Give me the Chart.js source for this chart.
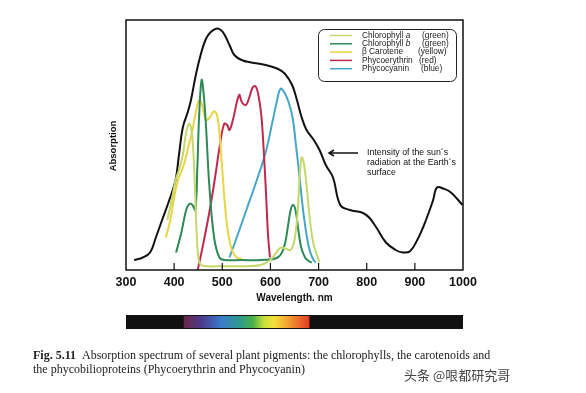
<!DOCTYPE html>
<html>
<head>
<meta charset="utf-8">
<script src="https://cdn.jsdelivr.net/npm/chart.js@4"></script>
<style>
  body { margin: 0; background: #fff; }
  #wrap { position: relative; width: 586px; height: 393px; }
  #caption { position: absolute; left: 33px; top: 348px; font: 12px "Liberation Serif", serif; color: #222; line-height: 14px; white-space: nowrap; }
  #mark { position: absolute; left: 404px; top: 365px; font: 13px "Noto Sans CJK SC", sans-serif; color: #444; }
</style>
</head>
<body>
<div id="wrap">
  <canvas id="chart-canvas" width="586" height="393"></canvas>
  <div id="caption"><b>Fig. 5.11</b>&nbsp;&nbsp;Absorption spectrum of several plant pigments: the chlorophylls, the carotenoids and<br>the phycobilioproteins (Phycoerythrin and Phycocyanin)</div>
  <div id="mark">头条 @哏都研究哥</div>
</div>
<script>
const xTicks = [300, 400, 500, 600, 700, 800, 900, 1000];

const sunNm = [317, 335, 350, 362, 375, 390, 403, 410, 418, 428, 435, 445, 455, 465, 475, 487, 497, 505, 515, 525, 540, 560, 590, 615, 630, 645, 655, 665, 675, 690, 702, 715, 730, 745, 765, 790, 805, 820, 840, 860, 875, 890, 905, 918, 928, 938, 946, 960, 975, 999];
const sunVal = [4, 5, 7, 13, 20, 28, 36, 46, 57, 63, 68, 78, 86, 92, 95, 96.5, 96, 94, 90, 86, 84, 83, 82, 80.5, 78.5, 74, 68, 61, 56, 52, 48, 42, 37, 26, 24, 23, 21, 17, 11, 8, 7, 7.5, 12, 17.5, 22.5, 28, 33, 32.5, 31, 26];

const chlANm = [386, 395, 403, 410, 418, 425, 431, 435, 439, 443, 447, 451, 456, 470, 500, 540, 580, 600, 612, 622, 632, 642, 650, 656, 661, 665, 670, 676, 682, 690, 702];
const chlAVal = [20, 28, 36, 40, 46, 55, 58.5, 57, 50, 34, 14, 4, 2, 1.5, 1.5, 1.5, 2, 4, 7, 9, 8.5, 8, 12, 22, 38, 45, 42, 32, 20, 10, 3];

const chlBNm = [404, 415, 425, 432, 438, 444, 448, 452, 457, 461, 466, 473, 483, 494, 505, 540, 580, 615, 628, 636, 642, 647, 652, 658, 664, 672, 680, 686];
const chlBVal = [7, 15, 24, 26.5, 26, 24, 40, 62, 76, 71, 58, 34, 13, 5, 4, 4, 4, 5, 9, 17, 24, 26, 24, 16, 9, 5, 3.5, 3];

const caroNm = [383, 392, 400, 408, 414, 420, 428, 438, 446, 452, 458, 466, 474, 483, 489, 494, 500, 506, 512, 520, 530, 540];
const caroVal = [13, 20, 29, 36, 39, 42, 48, 56, 64, 68, 66, 60, 61, 63.5, 62, 55, 40, 25, 15, 8, 5, 4.5];

const eryNm = [449, 460, 473, 485, 495, 504, 510, 515, 522, 535, 541, 549, 556, 563, 569, 575, 581, 586, 591, 595, 599];
const eryVal = [0, 10, 23, 37, 50, 58.5, 58, 56, 60, 70, 67, 66, 69, 73, 73.5, 70, 62, 48, 30, 14, 5];

const cyaNm = [515, 530, 550, 570, 590, 605, 614, 621, 629, 638, 646, 653, 660, 666, 672, 680, 688, 694];
const cyaVal = [5, 13, 24, 35, 47, 60, 68, 72.5, 71, 67, 61, 50, 38, 27, 18, 9, 4.5, 3];

const legendNames = ['Chlorophyll ', 'Chlorophyll ', 'β Carotene', 'Phycoerythrin', 'Phycocyanin'];
const legendItalic = ['a', 'b', '', '', ''];
const legendNotes = ['(green)', '(green)', '(yellow)', '(red)', '(blue)'];
const legendColors = ['#c4d86c', '#2d8a57', '#e9d443', '#c0294f', '#45a6c8'];

const pts = (xs, ys) => xs.map((x, i) => ({ x: x, y: ys[i] }));

function line(data, color, width) {
    return {
        data: data,
        borderColor: color,
        borderWidth: width,
        pointRadius: 0,
        fill: false,
        tension: 0.4
    };
}

const extras = {
    id: 'extras',
    afterDraw(chart) {
        const ctx = chart.ctx;
        const a = chart.chartArea;
        const xs = chart.scales.x;
        ctx.save();
        // frame
        ctx.strokeStyle = '#111';
        ctx.lineWidth = 1.5;
        ctx.strokeRect(a.left, a.top, a.right - a.left, a.bottom - a.top);
        // inner ticks
        ctx.lineWidth = 1.2;
        xTicks.slice(1, -1).forEach(v => {
            const px = xs.getPixelForValue(v);
            ctx.beginPath();
            ctx.moveTo(px, a.bottom);
            ctx.lineTo(px, a.bottom - 7);
            ctx.stroke();
        });
        // y title
        ctx.fillStyle = '#111';
        ctx.font = 'bold 9.5px Arial, "Liberation Sans", sans-serif';
        ctx.textAlign = 'center';
        ctx.textBaseline = 'middle';
        ctx.translate(113, 146);
        ctx.rotate(-Math.PI / 2);
        ctx.fillText('Absorption', 0, 0);
        ctx.restore();

        // legend
        ctx.save();
        ctx.strokeStyle = '#222';
        ctx.lineWidth = 1;
        ctx.beginPath();
        ctx.roundRect(318.5, 29.5, 138, 52, 6);
        ctx.stroke();
        ctx.textBaseline = 'middle';
        ctx.fillStyle = '#222';
        const font = '8.3px Arial, "Liberation Sans", sans-serif';
        const noteX = [422, 422, 418, 419, 421];
        legendNames.forEach((n, i) => {
            const y = 35.5 + i * 8.3;
            ctx.strokeStyle = legendColors[i];
            ctx.lineWidth = 1.5;
            ctx.beginPath();
            ctx.moveTo(330, y);
            ctx.lineTo(352, y);
            ctx.stroke();
            ctx.font = font;
            ctx.fillText(n, 362, y);
            if (legendItalic[i]) {
                const w = ctx.measureText(n).width;
                ctx.font = 'italic ' + font;
                ctx.fillText(legendItalic[i], 362 + w, y);
                ctx.font = font;
            }
            ctx.fillText(legendNotes[i], noteX[i], y);
        });

        // annotation arrow
        ctx.strokeStyle = '#111';
        ctx.lineWidth = 1.5;
        ctx.beginPath();
        ctx.moveTo(329, 153);
        ctx.lineTo(358, 153);
        ctx.moveTo(334, 150);
        ctx.lineTo(329, 153);
        ctx.lineTo(334, 156);
        ctx.stroke();
        ctx.fillStyle = '#111';
        ctx.font = '8.8px Arial, "Liberation Sans", sans-serif';
        ctx.fillText('Intensity of the sun´s', 367, 153);
        ctx.fillText('radiation at the Earth´s', 367, 163);
        ctx.fillText('surface', 367, 173);

        // spectrum bar
        ctx.fillStyle = '#111';
        ctx.fillRect(a.left, 315, a.right - a.left, 14);
        const x0 = xs.getPixelForValue(420);
        const x1 = xs.getPixelForValue(681);
        const g = ctx.createLinearGradient(x0, 0, x1, 0);
        g.addColorStop(0, '#6d2447');
        g.addColorStop(0.14, '#4b3a8c');
        g.addColorStop(0.3, '#3a7ccb');
        g.addColorStop(0.45, '#2d9b8a');
        g.addColorStop(0.55, '#4bb04a');
        g.addColorStop(0.64, '#c9de3c');
        g.addColorStop(0.72, '#f4e03a');
        g.addColorStop(0.84, '#f29a30');
        g.addColorStop(1, '#e33a26');
        ctx.fillStyle = g;
        ctx.fillRect(x0, 316, x1 - x0, 12);
        ctx.restore();
    }
};

const config = {
    type: 'line',
    data: {
        datasets: [
            line(pts(chlANm, chlAVal), '#c4d86c', 2),
            line(pts(chlBNm, chlBVal), '#2d8a57', 2),
            line(pts(caroNm, caroVal), '#e9d443', 2),
            line(pts(eryNm, eryVal), '#c0294f', 2),
            line(pts(cyaNm, cyaVal), '#45a6c8', 2),
            line(pts(sunNm, sunVal), '#111', 2)
        ]
    },
    options: {
        responsive: false,
        animation: false,
        layout: { padding: { left: 126, right: 123, top: 20, bottom: 87 } },
        plugins: { legend: { display: false }, tooltip: { enabled: false } },
        scales: {
            x: {
                type: 'linear',
                min: 300,
                max: 1000,
                afterBuildTicks: s => { s.ticks = xTicks.map(v => ({ value: v })); },
                afterFit: s => { s.height = 36; },
                grid: { display: false, drawTicks: false },
                border: { display: false },
                ticks: {
                    padding: 5,
                    maxRotation: 0,
                    color: '#111',
                    callback: v => String(v),
                    font: { family: 'Arial, "Liberation Sans", sans-serif', size: 12.5, weight: 'bold' }
                },
                title: {
                    display: true,
                    text: 'Wavelength. nm',
                    color: '#111',
                    padding: { top: 2, bottom: 2 },
                    font: { family: 'Arial, "Liberation Sans", sans-serif', size: 10, weight: 'bold' }
                }
            },
            y: { display: false, min: 0, max: 100 }
        }
    },
    plugins: [extras]
};

const myChart = new Chart(document.getElementById('chart-canvas'), config);
</script>
</body>
</html>
